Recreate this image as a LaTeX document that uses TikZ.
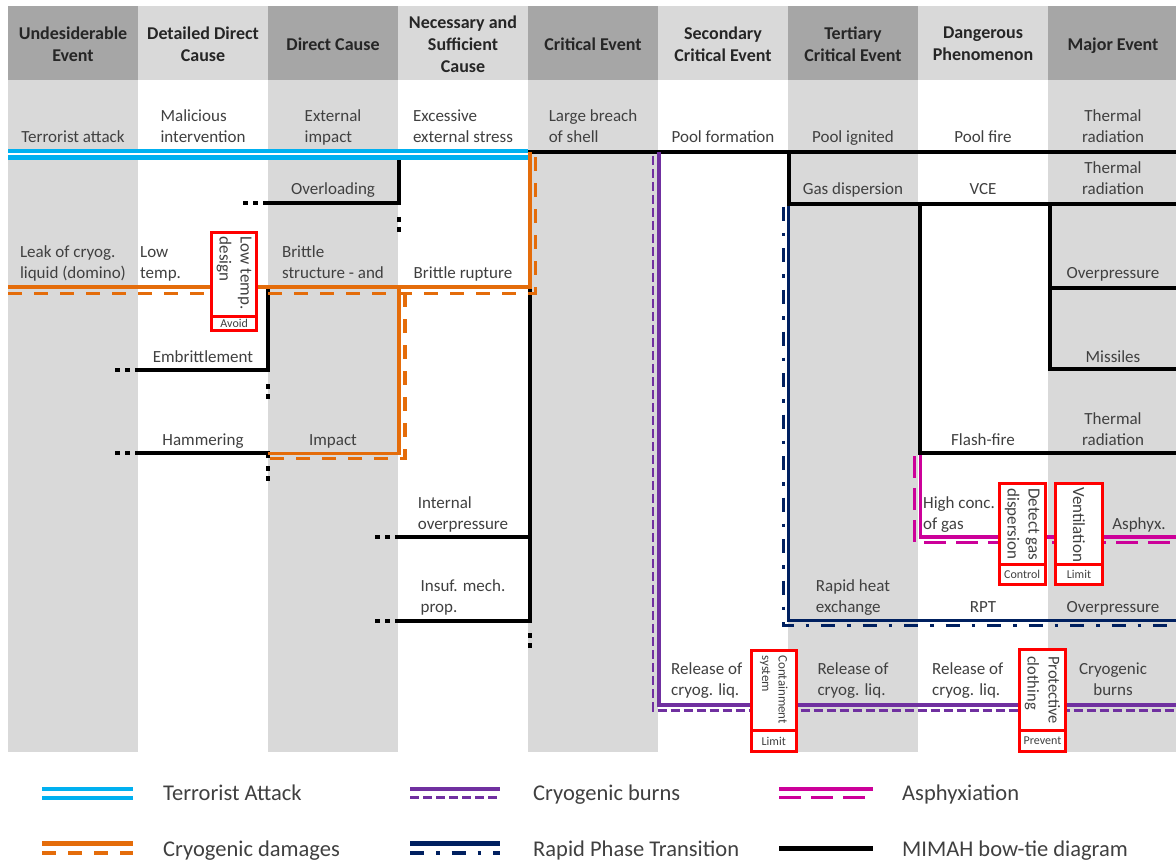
\documentclass[tikz,border=0pt]{standalone}
\usepackage{fontspec}
\setmainfont{Carlito}
\definecolor{hdrdark}{HTML}{A6A6A6}
\definecolor{cellgray}{HTML}{D9D9D9}
\definecolor{hdrtext}{HTML}{262626}
\definecolor{bodytext}{HTML}{404040}
\definecolor{tablue}{HTML}{00B0F0}
\definecolor{cryoorange}{HTML}{E46C0A}
\definecolor{burnpurple}{HTML}{7030A0}
\definecolor{rptnavy}{HTML}{002060}
\definecolor{asphmag}{HTML}{CC0099}
\definecolor{barred}{HTML}{FF0000}

\tikzset{
  hdr/.style={font=\fontsize{18}{22}\selectfont\bfseries, text=hdrtext, align=center, inner sep=0pt},
  txt/.style={font=\fontsize{17}{21}\selectfont, text=bodytext, align=left, inner sep=0pt, anchor=base},
  ctxt/.style={txt, align=center},
  wtxt/.style={txt, anchor=base west},
  legtxt/.style={font=\fontsize{22.5}{26}\selectfont, text=bodytext, inner sep=0pt, anchor=base west},
  bow/.style={draw=black, line width=3.8pt, line join=miter},
  bowdots/.style={draw=black, line width=3.8pt, dash pattern=on 5pt off 5pt},
  cryo/.style={draw=cryoorange, line width=3.8pt},
  cryodash/.style={draw=cryoorange, line width=3.2pt, dash pattern=on 14pt off 12pt},
  burn/.style={draw=burnpurple, line width=3.6pt},
  burndash/.style={draw=burnpurple, line width=2.8pt, dash pattern=on 9pt off 4pt},
  rpt/.style={draw=rptnavy, line width=3.2pt},
  rptdash/.style={draw=rptnavy, line width=3.2pt, dash pattern=on 14pt off 12pt on 3.5pt off 12pt},
  asph/.style={draw=asphmag, line width=3.6pt},
  asphdash/.style={draw=asphmag, line width=3.2pt, dash pattern=on 22pt off 10pt},
  terror/.style={draw=tablue, line width=4.5pt, double=white, double distance=2pt},
  barrier/.style={draw=barred, line width=3pt, fill=white, inner sep=0pt, outer sep=0pt},
  bartext/.style={text=bodytext, align=left, inner sep=0pt, rotate=-90, anchor=west},
  barlabel/.style={font=\fontsize{12}{14}\selectfont, text=bodytext},
}

\begin{document}
\begin{tikzpicture}[x=1pt,y=-1pt]
\useasboundingbox (0,0) rectangle (1176,861);
\fill[white] (0,0) rectangle (1176,861);

% column bands
\foreach \xa/\xb in {8/138, 268/398, 528/658, 788/918, 1048/1176} {
  \fill[hdrdark] (\xa,6) rectangle (\xb,80);
  \fill[cellgray] (\xa,80) rectangle (\xb,752);
}
\foreach \xa/\xb in {138/268, 398/528, 658/788, 918/1048} {
  \fill[cellgray] (\xa,6) rectangle (\xb,80);
}

% column headings
\node[hdr] (h1) at (73,44) {Undesiderable\\Event};
\node[hdr] (h2) at (203,44) {Detailed Direct\\Cause};
\node[hdr] (h3) at (333,44) {Direct Cause};
\node[hdr] (h4) at (463,44) {Necessary and\\Sufficient\\Cause};
\node[hdr] (h5) at (593,44) {Critical Event};
\node[hdr] (h6) at (723,44) {Secondary\\Critical Event};
\node[hdr] (h7) at (853,44) {Tertiary\\Critical Event};
\node[hdr] (h8) at (983,44) {Dangerous\\Phenomenon};
\node[hdr] (h9) at (1113,46) {Major Event};

% bow-tie tree (left wing)
\draw[bow] (1176,152) -- (530,152) -- (530,621) -- (395,621);
\draw[bowdots] (375,621) -- (390,621);
\draw[bowdots] (530,633) -- (530,648);
\draw[bow] (530,537) -- (395,537);
\draw[bowdots] (375,537) -- (390,537);
\draw[bow] (399,152) -- (399,203) -- (263,203);
\draw[bowdots] (243,203) -- (258,203);
\draw[bowdots] (399,217) -- (399,232);
\draw[bow] (268,287) -- (268,370) -- (135,370);
\draw[bowdots] (115,370) -- (130,370);
\draw[bowdots] (268,384) -- (268,399);
\draw[bow] (268,458) -- (268,453) -- (135,453);
\draw[bowdots] (115,453) -- (130,453);
\draw[bowdots] (268,466) -- (268,481);
% bow-tie tree (right wing)
\draw[bow] (789,152) -- (789,204) -- (1176,204);
\draw[bow] (920,204) -- (920,453) -- (1176,453);
\draw[bow] (1050,204) -- (1050,369) -- (1176,369);
\draw[bow] (1050,288) -- (1176,288);

% scenario paths
\draw[terror] (8,154.5) -- (528,154.5);
\draw[cryo] (8,287) -- (530,287) -- (530,152);
\draw[cryo] (399,287) -- (399,453.5) -- (268,453.5);
\draw[cryodash] (8,293.3) -- (535.5,293.3) -- (535.5,156);
\draw[cryodash] (405,293.3) -- (405,458.5) -- (270,458.5);
\draw[burn] (659,152) -- (659,705) -- (1176,705);
\draw[burndash] (653,156) -- (653,710.5) -- (1176,710.5);
\draw[rpt] (788.5,206) -- (788.5,620.3) -- (1176,620.3);
\draw[rptdash] (783.3,207) -- (783.3,625.7) -- (1176,625.7);
\draw[asph] (920.5,455) -- (920.5,536.7) -- (1176,536.7);
\draw[asphdash] (914.3,456) -- (914.3,542.3) -- (1176,542.3);

% events (anchored on the baseline of the last line)
\node[txt] (terror) at (73,143) {Terrorist attack};
\node[txt] (malic) at (203,143) {Malicious\\intervention};
\node[txt] (extimp) at (333,143) {External\\impact};
\node[txt] (excess) at (463,143) {Excessive\\external stress};
\node[txt] (breach) at (593,143) {Large breach\\of shell};
\node[txt] (poolform) at (723,143) {Pool formation};
\node[txt] (poolign) at (853,143) {Pool ignited};
\node[txt] (poolfire) at (983,143) {Pool fire};
\node[ctxt] (thermA) at (1113,143) {Thermal\\radiation};
\node[txt] (overload) at (333,195) {Overloading};
\node[txt] (gasdisp) at (853,195) {Gas dispersion};
\node[txt] (vce) at (983,195) {VCE};
\node[ctxt] (thermB) at (1113,195) {Thermal\\radiation};
\node[txt] (leak) at (73,279) {Leak of cryog.\\liquid (domino)};
\node[wtxt] (lowtemp) at (140,279) {Low\\temp.};
\node[txt] (brittle) at (333,279) {Brittle\\structure - and};
\node[txt] (rupture) at (463,279) {Brittle rupture};
\node[txt] (overpA) at (1113,279) {Overpressure};
\node[txt] (embr) at (203,362) {Embrittlement};
\node[txt] (missiles) at (1113,362) {Missiles};
\node[txt] (hammer) at (203,445) {Hammering};
\node[txt] (impact) at (333,445) {Impact};
\node[txt] (flash) at (983,445) {Flash-fire};
\node[ctxt] (thermC) at (1113,445) {Thermal\\radiation};
\node[txt] (intover) at (463,529) {Internal\\overpressure};
\node[wtxt] (highconc) at (923,529) {High conc.\\of gas};
\node[txt] (asphyx) at (1139,529) {Asphyx.};
\node[txt] (insuf) at (463,612) {Insuf. mech.\\prop.};
\node[txt] (rapid) at (853,612) {Rapid heat\\exchange};
\node[txt] (rpt) at (983,612) {RPT};
\node[txt] (overpB) at (1113,612) {Overpressure};
\node[wtxt] (relA) at (671,695) {Release of\\cryog. liq.};
\node[txt] (relB) at (853,695) {Release of\\cryog. liq.};
\node[wtxt] (relC) at (932,695) {Release of\\cryog. liq.};
\node[ctxt] (cburns) at (1113,695) {Cryogenic\\burns};

% safety barriers
\node[barrier, minimum width=45pt, minimum height=83.5pt, anchor=north west] (bLow) at (211.7,232.5) {};
\node[barrier, barlabel, minimum width=45pt, minimum height=14.5pt, anchor=north] (bLowL) at (bLow.south) {Avoid};
\node[bartext, font=\fontsize{17}{21}\selectfont] (bLowT) at ([yshift=-4pt]bLow.north) {Low temp.\\design};

\node[barrier, minimum width=44.5pt, minimum height=80pt, anchor=north west] (bCont) at (751.5,650.2) {};
\node[barrier, barlabel, minimum width=44.5pt, minimum height=21.6pt, anchor=north] (bContL) at (bCont.south) {Limit};
\node[bartext, font=\fontsize{13}{16.5}\selectfont] (bContT) at ([yshift=-5pt]bCont.north) {Containment\\system};

\node[barrier, minimum width=46pt, minimum height=81pt, anchor=north west] (bDet) at (999.2,483.2) {};
\node[barrier, barlabel, minimum width=46pt, minimum height=20pt, anchor=north] (bDetL) at (bDet.south) {Control};
\node[bartext, font=\fontsize{17}{21}\selectfont] (bDetT) at ([yshift=-5pt]bDet.north) {Detect gas\\dispersion};

\node[barrier, minimum width=47pt, minimum height=81pt, anchor=north west] (bVen) at (1055.5,483.2) {};
\node[barrier, barlabel, minimum width=47pt, minimum height=20pt, anchor=north] (bVenL) at (bVen.south) {Limit};
\node[bartext, font=\fontsize{17}{21}\selectfont] (bVenT) at ([yshift=-4pt]bVen.north) {Ventilation};

\node[barrier, minimum width=45.4pt, minimum height=81pt, anchor=north west] (bProt) at (1019.8,649.8) {};
\node[barrier, barlabel, minimum width=45.4pt, minimum height=20.4pt, anchor=north] (bProtL) at (bProt.south) {Prevent};
\node[bartext, font=\fontsize{16.5}{21}\selectfont] (bProtT) at ([yshift=-6pt]bProt.north) {Protective\\clothing};

% legend
\draw[tablue, line width=4pt] (42,788.5) -- (133,788.5);
\draw[tablue, line width=4pt] (42,797.5) -- (133,797.5);
\node[legtxt] (lgA) at (163,800) {Terrorist Attack};
\draw[burn, line width=4pt] (410,788.5) -- (500,788.5);
\draw[burndash, line width=3.5pt] (410,797.5) -- (500,797.5);
\node[legtxt] (lgB) at (533,800) {Cryogenic burns};
\draw[asph, line width=4pt] (779,788.5) -- (873,788.5);
\draw[asphdash, line width=3.5pt] (779,797.5) -- (873,797.5);
\node[legtxt] (lgC) at (902,800) {Asphyxiation};
\draw[cryo, line width=4.5pt] (42,843.5) -- (133,843.5);
\draw[cryodash, line width=3.5pt] (42,853) -- (133,853);
\node[legtxt] (lgD) at (163,856) {Cryogenic damages};
\draw[rpt, line width=4.5pt] (410,843.5) -- (500,843.5);
\draw[rptdash, line width=3.5pt] (410,853) -- (500,853);
\node[legtxt] (lgE) at (533,856) {Rapid Phase Transition};
\draw[bow, line width=4.5pt] (779,848.5) -- (873,848.5);
\node[legtxt] (lgF) at (902,856) {MIMAH bow-tie diagram};
\end{tikzpicture}
\end{document}
